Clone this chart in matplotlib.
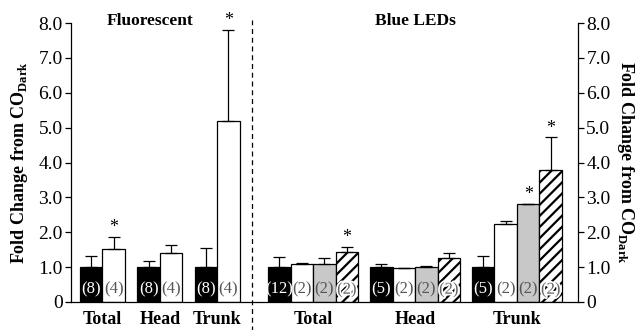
import numpy as np
import matplotlib
matplotlib.use('Agg')
import matplotlib.pyplot as plt
import matplotlib.patheffects as pe

plt.rcParams['font.family'] = ['Liberation Serif', 'DejaVu Serif']
plt.rcParams['mathtext.fontset'] = 'custom'
plt.rcParams['mathtext.rm'] = 'Liberation Serif:bold'
plt.rcParams['hatch.linewidth'] = 1.6

# 荧光灯组：每个部位两根柱（CO_Dark, 荧光）
fl_parts = ['Total', 'Head', 'Trunk']
fl_means = [[1.0, 1.52], [1.0, 1.40], [1.0, 5.20]]
fl_err = [[0.32, 0.35], [0.18, 0.23], [0.55, 2.60]]
fl_n = [['(8)', '(4)'], ['(8)', '(4)'], ['(8)', '(4)']]
fl_sig = [[False, True], [False, False], [False, True]]

# 蓝光LED组：每个部位四根柱
led_parts = ['Total', 'Head', 'Trunk']
led_means = [[1.0, 1.08, 1.10, 1.42], [1.0, 0.96, 0.99, 1.26], [1.0, 2.25, 2.80, 3.78]]
led_err = [[0.28, 0.05, 0.17, 0.16], [0.10, 0.02, 0.03, 0.14], [0.32, 0.08, 0.02, 0.94]]
led_n = [['(12)', '(2)', '(2)', '(2)'], ['(5)', '(2)', '(2)', '(2)'], ['(5)', '(2)', '(2)', '(2)']]
led_sig = [[False, False, False, True], [False, False, False, False], [False, False, True, True]]

yticks = [0, 1, 2, 3, 4, 5, 6, 7, 8]
ytick_labels = ['0', '1.0', '2.0', '3.0', '4.0', '5.0', '6.0', '7.0', '8.0']

# 柱子样式：黑、白、灰、斜线
styles = [dict(color='black', hatch=None, txt='white'),
          dict(color='white', hatch=None, txt='#555555'),
          dict(color='#c8c8c8', hatch=None, txt='#555555'),
          dict(color='white', hatch='///', txt='#666666')]

fig = plt.figure(figsize=(6.39, 3.30), dpi=100)
ax = fig.add_axes([0.111, 0.085, 0.7935, 0.845])

width = 1.0


def draw_group(x0, means, errs, ns, sigs, style_idx):
    for k, (m, e, n, s) in enumerate(zip(means, errs, ns, sigs)):
        st = styles[style_idx[k]]
        x = x0 + k * width + width / 2
        ax.bar(x, m, width=width, color=st['color'], edgecolor='black',
               linewidth=0.9, hatch=st['hatch'], zorder=2)
        ax.errorbar(x, m, yerr=[[0], [e]], fmt='none', ecolor='black',
                    elinewidth=0.9, capsize=4, capthick=0.9, zorder=3)
        t = ax.text(x, 0.35, n, ha='center', va='center', fontsize=12,
                    color=st['txt'], zorder=4)
        if st['hatch']:
            t.set_path_effects([pe.withStroke(linewidth=2.5, foreground='white')])
        if s:
            ax.text(x, m + e + 0.02, '*', ha='center', va='bottom', fontsize=13)
    return x0 + len(means) * width / 2


label_y = -0.5
fl_starts = [0.4 + i * 2.55 for i in range(3)]
for i, part in enumerate(fl_parts):
    c = draw_group(fl_starts[i], fl_means[i], fl_err[i], fl_n[i], fl_sig[i], [0, 1])
    ax.text(c, label_y, part, ha='center', va='center', fontsize=13,
            fontweight='bold')

led_starts = [8.76 + i * 4.53 for i in range(3)]
for i, part in enumerate(led_parts):
    c = draw_group(led_starts[i], led_means[i], led_err[i], led_n[i], led_sig[i], [0, 1, 2, 3])
    ax.text(c, label_y, part, ha='center', va='center', fontsize=13,
            fontweight='bold')

x_right = 22.53
ax.set_xlim(0, x_right)
ax.set_ylim(0, 8)
ax.set_xticks([])
ax.set_yticks(yticks)
ax.set_yticklabels(ytick_labels, fontsize=14)
ax.tick_params(axis='y', direction='out', length=4, width=0.9, pad=2)
ax.spines['top'].set_visible(False)
ax.spines['right'].set_visible(False)
for sp in ['left', 'bottom']:
    ax.spines[sp].set_linewidth(0.9)

# 右侧坐标轴
ax2 = ax.twinx()
ax2.set_ylim(0, 8)
ax2.set_yticks(yticks)
ax2.set_yticklabels(ytick_labels, fontsize=14)
ax2.tick_params(axis='y', direction='out', length=4, width=0.9, pad=2)
for sp in ['top', 'left', 'bottom']:
    ax2.spines[sp].set_visible(False)
ax2.spines['right'].set_linewidth(0.9)

ylab = r'Fold Change from CO$_{\mathrm{Dark}}$'
ax.set_ylabel(ylab, fontsize=13, fontweight='bold', labelpad=6)
ax2.set_ylabel(ylab, fontsize=13, fontweight='bold', rotation=270, labelpad=18)

# 分隔线
ax.plot([8.04, 8.04], [-1.0, 8.1], color='black', linestyle=(0, (4, 3)),
        linewidth=0.9, clip_on=False, zorder=1)

ax.text(3.5, 8.05, 'Fluorescent', ha='center', va='center', fontsize=12.5,
        fontweight='bold')
ax.text(15.3, 8.05, 'Blue LEDs', ha='center', va='center', fontsize=12.5,
        fontweight='bold')

plt.savefig('out.png', dpi=100)
